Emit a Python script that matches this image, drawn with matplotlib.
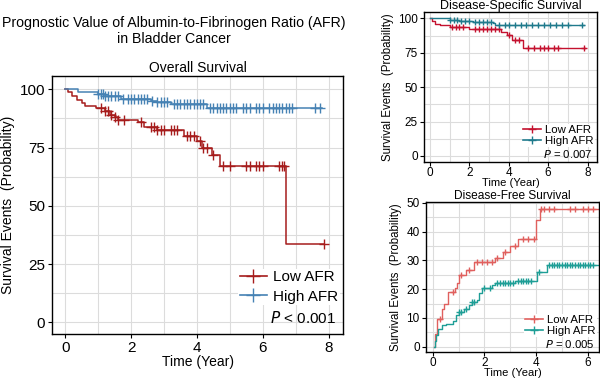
import numpy as np
import matplotlib
matplotlib.use("Agg")
import matplotlib.pyplot as plt
from matplotlib.lines import Line2D

matplotlib.rcParams["font.family"] = ["Liberation Sans", "DejaVu Sans"]

# Overall survival
os_low_t = [0, 0.1, 0.2, 0.35, 0.5, 0.6, 0.95, 1.2, 1.35, 1.5, 1.6, 2.2, 2.4, 2.8, 3.6, 4.0, 4.15, 4.45, 4.7, 6.7, 7.85]
os_low_s = [100, 99, 97, 95.5, 94, 93, 92, 90.5, 89, 88, 87, 86, 84, 82.5, 80, 78, 75, 72, 67, 33.8, 33.8]
os_low_c = [1.1, 1.2, 1.3, 1.4, 1.5, 1.6, 1.8, 2.3, 2.6, 2.7, 2.8, 2.9, 3.0, 3.2, 3.3, 3.4, 3.7, 3.8,
            3.9, 4.1, 4.2, 4.3, 4.5, 4.8, 5.0, 5.5, 5.6, 5.8, 5.9, 6.0, 6.5, 6.6, 6.65, 7.85]
os_high_t = [0, 0.4, 1.0, 1.2, 1.7, 2.6, 2.8, 3.2, 4.3, 7.8]
os_high_s = [100, 99, 98, 97.3, 96, 95, 94.5, 93.7, 92, 92]
os_high_c = [1.0, 1.1, 1.15, 1.2, 1.3, 1.4, 1.5, 1.6, 1.75, 1.9, 2.0, 2.1, 2.2, 2.3, 2.4, 2.5, 2.65,
             2.8, 2.9, 3.0, 3.1, 3.3, 3.4, 3.5, 3.6, 3.7, 3.8, 3.9, 4.0, 4.1, 4.2, 4.4, 4.5, 4.6,
             4.7, 4.8, 4.9, 5.0, 5.1, 5.2, 5.4, 5.5, 5.6, 5.8, 5.9, 6.0, 6.2, 6.3, 6.4, 6.5, 6.6,
             6.7, 6.8, 6.9, 7.6, 7.75]

# Disease-specific survival
dss_low_t = [0, 0.1, 0.25, 0.5, 1.0, 2.0, 3.6, 3.9, 4.15, 4.7, 7.85]
dss_low_s = [100, 98, 96, 95, 94, 92.3, 90, 88, 84, 78.5, 78.5]
dss_low_c = [1.1, 1.3, 1.5, 1.7, 2.3, 2.5, 2.7, 2.9, 3.1, 3.3, 3.5, 4.0, 4.3, 4.5, 5.0,
             5.3, 5.6, 5.8, 6.0, 6.3, 6.5, 7.8]
dss_high_t = [0, 1.0, 1.5, 2.2, 3.2, 3.3, 7.8]
dss_high_s = [100, 99, 98, 97, 96.4, 95.5, 95.5]
dss_high_c = [1.0, 1.2, 1.4, 1.6, 1.8, 2.0, 2.3, 2.5, 2.7, 2.9, 3.1, 3.5, 3.8, 4.0, 4.3, 4.6,
              4.9, 5.2, 5.5, 5.8, 6.1, 6.4, 6.7, 7.0, 7.7]

# Disease-free survival
dfs_low_t = [0.05, 0.1, 0.17, 0.35, 0.45, 0.6, 0.85, 0.95, 1.0, 1.3, 1.6, 2.4, 2.7, 3.0, 3.3, 4.0, 4.15, 6.4]
dfs_low_s = [0, 4.5, 9.5, 13, 15, 19, 20.5, 22, 25, 26.5, 29.3, 31, 33, 35, 37.5, 44, 48, 48]
dfs_low_c = [0.3, 0.8, 1.1, 1.4, 1.7, 1.9, 2.1, 2.3, 2.5, 2.8, 3.2, 3.5, 3.7, 3.9, 4.2, 4.3, 4.5,
             4.7, 5.3, 5.5, 5.8, 6.0, 6.2]
dfs_high_t = [0.05, 0.08, 0.12, 0.2, 0.35, 0.5, 0.8, 0.9, 1.0, 1.2, 1.4, 1.5, 1.7, 1.8, 1.9, 2.1, 2.3, 2.4, 3.2, 4.0, 4.05, 4.4, 6.4]
dfs_high_s = [0, 2, 4, 6, 7.5, 8, 9, 11, 12, 13, 14.5, 15.5, 16.3, 18.5, 20.3, 20.5, 21.5, 22, 23, 23, 26, 28.3, 28.3]
dfs_high_c = [1.0, 1.1, 1.3, 1.5, 1.6, 2.0, 2.2, 2.5, 2.6, 2.7, 2.8, 2.9, 3.0, 3.1, 3.3, 3.4, 3.5,
              3.6, 3.7, 3.8, 4.1, 4.5, 4.6, 4.7, 4.8, 4.9, 5.0, 5.1, 5.2, 5.3, 5.4, 5.5, 5.6, 5.7,
              5.8, 5.9, 6.0, 6.1, 6.2]


def km(ax, t, s, c, color, lw=1.1, ms=6):
    t = np.array(t)
    s = np.array(s)
    ax.plot(t, s, drawstyle="steps-post", color=color, lw=lw)
    idx = np.searchsorted(t, np.array(c), side="right") - 1
    ax.plot(c, s[idx], ls="none", marker="+", color=color, ms=ms, mew=1.0)


def style(ax, fs, pad=2):
    ax.grid(True, which="both", color="#dcdcdc", lw=0.8)
    ax.set_axisbelow(True)
    for sp in ax.spines.values():
        sp.set_linewidth(1.0)
    ax.tick_params(labelsize=fs, length=3, width=0.8, pad=pad)
    ax.tick_params(which="minor", length=0)


def legend(ax, c1, c2, ptxt, fs, ms, anchor, spacing, hl, py):
    h = [Line2D([], [], color=c1, marker="+", ms=ms, lw=1.2),
         Line2D([], [], color=c2, marker="+", ms=ms, lw=1.2)]
    leg = ax.legend(h, ["Low AFR", "High AFR"], loc="lower right", fontsize=fs,
                    frameon=True, framealpha=1, edgecolor="none", borderpad=0.1,
                    handlelength=hl, handletextpad=0.4, labelspacing=spacing,
                    borderaxespad=0.2, bbox_to_anchor=anchor)
    leg.set_zorder(5)
    ax.text(0.975, py, ptxt, transform=ax.transAxes, ha="right", va="bottom", fontsize=fs,
            zorder=6)


fig = plt.figure(figsize=(6, 3.81), dpi=100)
W, H = 600, 381


def add_ax(l, t, r, b):
    return fig.add_axes([l / W, 1 - b / H, (r - l) / W, (b - t) / H])


fig.text(174 / W, 1 - 31 / H, "Prognostic Value of Albumin-to-Fibrinogen Ratio (AFR)\nin Bladder Cancer",
         ha="center", va="center", fontsize=10.2, linespacing=1.1)

# main panel
ax = add_ax(52, 76, 343, 334)
km(ax, os_low_t, os_low_s, os_low_c, "#A61C1C", ms=7)
km(ax, os_high_t, os_high_s, os_high_c, "#4682B4", ms=7)
style(ax, 11)
ax.set_xlim(-0.4, 8.44)
ax.set_ylim(-5, 105.7)
ax.set_xticks([0, 2, 4, 6, 8])
ax.set_xticks([1, 3, 5, 7], minor=True)
ax.set_yticks([0, 25, 50, 75, 100])
ax.set_yticks([12.5, 37.5, 62.5, 87.5], minor=True)
ax.set_title("Overall Survival", fontsize=10, pad=3)
ax.set_xlabel("Time (Year)", fontsize=10, labelpad=0)
ax.set_ylabel("Survival Events  (Probability)", fontsize=10, labelpad=3)
legend(ax, "#A61C1C", "#4682B4", "$P$ < 0.001", 11, 10, (1.0, 0.1), 0.35, 1.8, 0.03)

# disease-specific
ax2 = add_ax(424, 12, 597, 162)
km(ax2, dss_low_t, dss_low_s, dss_low_c, "#C4122F", lw=1.0, ms=4)
km(ax2, dss_high_t, dss_high_s, dss_high_c, "#1F7A8C", lw=1.0, ms=4)
style(ax2, 8.5, pad=0.5)
ax2.set_xlim(-0.3, 8.48)
ax2.set_ylim(-4.4, 104.6)
ax2.set_xticks([0, 2, 4, 6, 8])
ax2.set_xticks([1, 3, 5, 7], minor=True)
ax2.set_yticks([0, 25, 50, 75, 100])
ax2.set_yticks([12.5, 37.5, 62.5, 87.5], minor=True)
ax2.tick_params(axis="y", pad=1.5)
ax2.set_title("Disease-Specific Survival", fontsize=9, pad=1)
ax2.set_xlabel("Time (Year)", fontsize=8, labelpad=-0.5)
ax2.set_ylabel("Survival Events  (Probability)", fontsize=8.3, labelpad=3)
legend(ax2, "#C4122F", "#1F7A8C", "$P$ = 0.007", 8.2, 6, (1.0, 0.085), 0.05, 1.5, 0.01)

# disease-free
ax3 = add_ax(426, 202, 599, 352)
km(ax3, dfs_low_t, dfs_low_s, dfs_low_c, "#E0605E", lw=1.0, ms=4)
km(ax3, dfs_high_t, dfs_high_s, dfs_high_c, "#1E9E96", lw=1.0, ms=4)
style(ax3, 8.5, pad=0.5)
ax3.set_xlim(-0.26, 6.43)
ax3.set_ylim(-1.84, 50.3)
ax3.set_xticks([0, 2, 4, 6])
ax3.set_xticks([1, 3, 5], minor=True)
ax3.set_yticks([0, 10, 20, 30, 40, 50])
ax3.set_yticks([5, 15, 25, 35, 45], minor=True)
ax3.tick_params(axis="y", pad=1.5)
ax3.set_title("Disease-Free Survival", fontsize=8.6, pad=0)
ax3.set_xlabel("Time (Year)", fontsize=8, labelpad=-0.5)
ax3.set_ylabel("Survival Events  (Probability)", fontsize=8.3, labelpad=3)
legend(ax3, "#E0605E", "#1E9E96", "$P$ = 0.005", 8.2, 6, (1.0, 0.085), 0.05, 1.5, 0.01)

fig.savefig("out.png", dpi=100)
